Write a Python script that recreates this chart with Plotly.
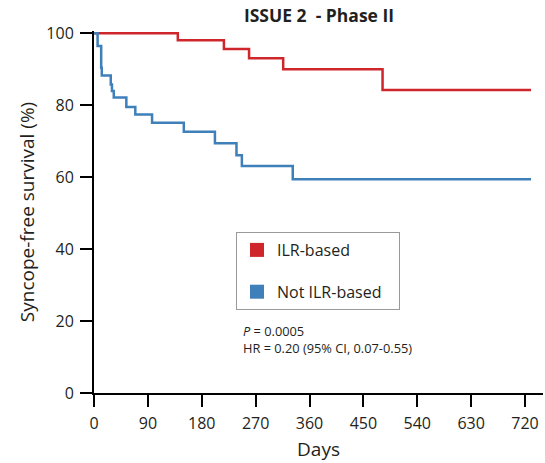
import plotly.graph_objects as go

# Kaplan-Meier step data (days, % syncope-free)
ilr_days = [0, 140, 217, 259, 316, 482, 730]
ilr_surv = [100, 98.0, 95.6, 93.0, 90.0, 84.2, 84.2]

not_ilr_days = [0, 6, 12, 13, 28, 30, 33, 54, 69, 97, 150, 202, 238, 247, 332, 730]
not_ilr_surv = [100, 96.4, 90.4, 88.2, 85.7, 83.9, 82.1, 79.5, 77.4, 75.1, 72.6, 69.4, 66.1, 63.1, 59.4, 59.4]

x_ticks = [0, 90, 180, 270, 360, 450, 540, 630, 720]
y_ticks = [0, 20, 40, 60, 80, 100]

series_names = ["ILR-based", "Not ILR-based"]
RED = "#cf262c"
BLUE = "#3f7fba"
FONT = "Open Sans"
TXT = "#231f20"

fig = go.Figure()
fig.add_trace(go.Scatter(x=ilr_days, y=ilr_surv, mode="lines", line=dict(color=RED, width=2.5, shape="hv"),
                         showlegend=False))
fig.add_trace(go.Scatter(x=not_ilr_days, y=not_ilr_surv, mode="lines", line=dict(color=BLUE, width=2.5, shape="hv"),
                         showlegend=False))
# legend entries
for name, col in zip(series_names, [RED, BLUE]):
    fig.add_trace(go.Scatter(x=[None], y=[None], mode="markers", name=name + "\u00a0\u00a0\u00a0",
                             legendgroup=name, marker=dict(symbol="square", size=14, color=col)))

L, R, T, B = 94, 2, 31, 70
W, H = 545, 463
ph = H - T - B

def px(p):
    return (p - L) / (W - L - R)

def py(q):
    return (H - B - q) / ph

fig.add_annotation(x=px(241), y=py(320), xref="paper", yref="paper", xanchor="left", yanchor="top",
                   align="left", showarrow=False,
                   text="<i>P</i> = 0.0005<br>HR = 0.20 (95% CI, 0.07-0.55)",
                   font=dict(family=FONT, size=12.8, color=TXT))

fig.update_layout(
    width=W, height=H,
    margin=dict(l=L, r=R, t=T, b=B, autoexpand=False),
    paper_bgcolor="white", plot_bgcolor="white",
    font=dict(family=FONT, color=TXT),
    title=dict(text="<b>ISSUE 2  - Phase II</b>", x=319 / W, xanchor="center", y=1 - 16 / H, yanchor="middle",
               font=dict(family=FONT, size=17.5, color=TXT)),
    legend=dict(x=px(236), y=py(232), xanchor="left", yanchor="top", bordercolor="#999", borderwidth=1,
                bgcolor="white", font=dict(family=FONT, size=16, color=TXT),
                traceorder="grouped", tracegroupgap=18),
    xaxis=dict(range=[0, 750], tickvals=x_ticks, ticks="outside", ticklen=12, tickwidth=2, tickcolor="black",
               showline=True, linecolor="black", linewidth=2, showgrid=False, zeroline=False, automargin=False,
               tickfont=dict(family=FONT, size=16, color=TXT), ticklabelstandoff=3,
               title=dict(text="Days", font=dict(family=FONT, size=19, color=TXT), standoff=9)),
    yaxis=dict(range=[0, 100.6], tickvals=y_ticks, ticks="outside", ticklen=12, tickwidth=2, tickcolor="black",
               showline=True, linecolor="black", linewidth=2, showgrid=False, zeroline=False, automargin=False,
               tickfont=dict(family=FONT, size=16, color=TXT), ticklabelstandoff=3,
               title=dict(text="Syncope-free survival (%)", font=dict(family=FONT, size=19, color=TXT), standoff=7)),
)

fig.write_html("out.html", config={"displayModeBar": False},
               post_script="document.body.style.margin='0';")
